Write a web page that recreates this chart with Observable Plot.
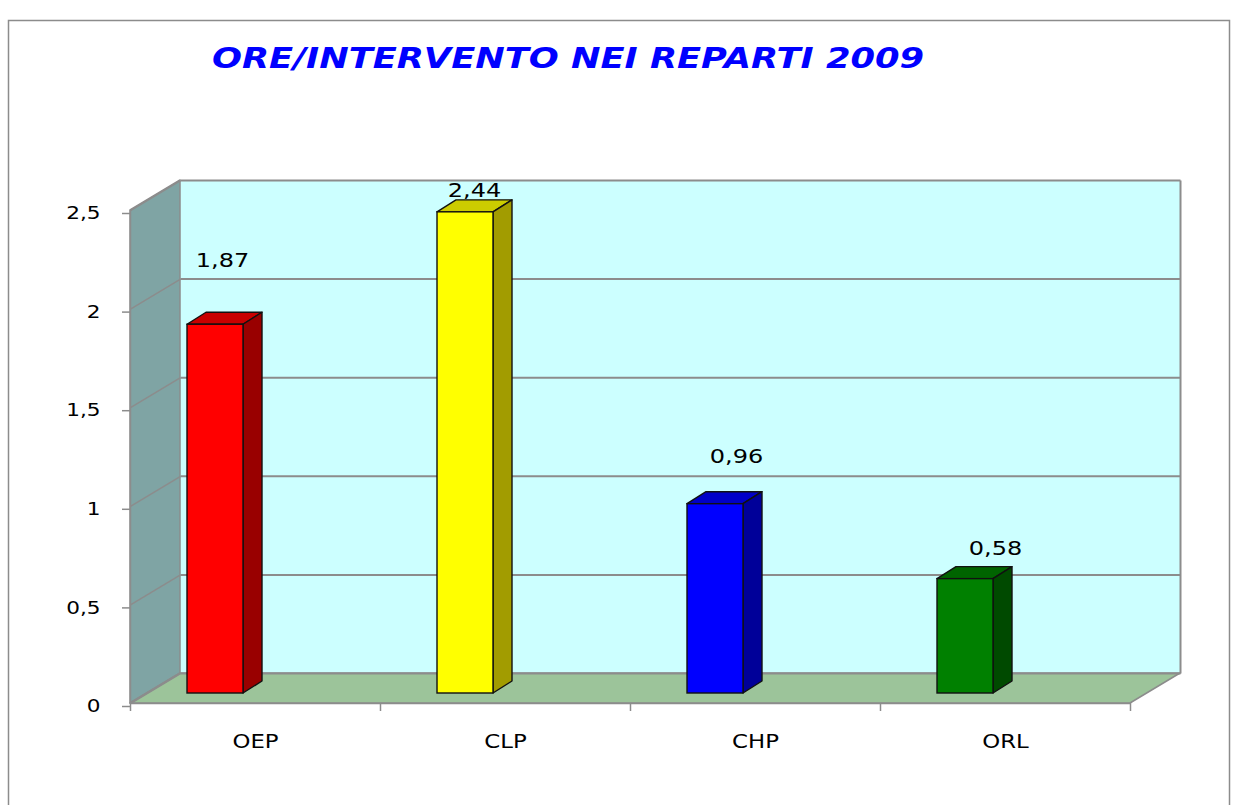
<!DOCTYPE html>
<html>
<head>
<meta charset="utf-8">
<script src="https://cdn.jsdelivr.net/npm/d3@7"></script>
<script src="https://cdn.jsdelivr.net/npm/@observablehq/plot@0.6"></script>
<style>
  html, body { margin: 0; padding: 0; background: #fff; overflow: hidden; }
  #chart { position: relative; width: 1238px; height: 805px; }
</style>
</head>
<body>
<div id="chart"></div>
<script>
// ---- data ----
const title = "ORE/INTERVENTO NEI REPARTI 2009";
const categories = ["OEP", "CLP", "CHP", "ORL"];
const values = [1.87, 2.44, 0.96, 0.58];
const valueLabels = ["1,87", "2,44", "0,96", "0,58"];
const yTicks = [0, 0.5, 1, 1.5, 2, 2.5];
const yTickLabels = ["0", "0,5", "1", "1,5", "2", "2,5"];
const frontColors = ["#FF0000", "#FFFF00", "#0000FF", "#008000"];
const topColors = ["#C80000", "#CCCC00", "#0000C8", "#006400"];
const sideColors = ["#990000", "#A29C00", "#000099", "#004A00"];

// ---- layout (pixels) ----
const W = 1238, H = 805;
const mL = 130, mR = 108, mT = 210, mB = 102;
const yMax = 2.5;
const kx = (W - mL - mR) / categories.length; // px per x unit
const ky = (H - mT - mB) / yMax;               // px per y unit
const wallDX = 50 / kx, wallDY = 30 / ky;       // depth of the 3D box
const barInsetX = 57 / kx, barW = 56 / kx, barLift = 10 / ky;
const barDX = 19 / kx, barDY = 12 / ky;
const labelNudgeX = [-33, -31, -19, -10];       // px from category centre
const labelNudgeY = [74, 32, 58, 41];           // px above value level

const gridColor = "#8c8c8c";

const bars = categories.map((c, i) => ({
  i, c, v: values[i],
  x1: i + barInsetX, x2: i + barInsetX + barW,
  y1: barLift, y2: values[i] + barLift,
  front: frontColors[i], top: topColors[i], side: sideColors[i]
}));
const sidePts = bars.flatMap(b => [
  {i: b.i, x: b.x2, y1: b.y1, y2: b.y2, fill: b.side},
  {i: b.i, x: b.x2 + barDX, y1: b.y1 + barDY, y2: b.y2 + barDY, fill: b.side}
]);
const topPts = bars.flatMap(b => [
  {i: b.i, y: b.y2, x1: b.x1, x2: b.x2, fill: b.top},
  {i: b.i, y: b.y2 + barDY, x1: b.x1 + barDX, x2: b.x2 + barDX, fill: b.top}
]);
const labels = bars.map(b => ({
  text: valueLabels[b.i],
  x: b.i + 0.5 + labelNudgeX[b.i] / kx,
  y: b.v + labelNudgeY[b.i] / ky
}));

const n = categories.length;
const leftWall = [
  {x: 0, y1: 0, y2: yMax},
  {x: wallDX, y1: wallDY, y2: yMax + wallDY}
];
const floor = [
  {y: 0, x1: 0, x2: n},
  {y: wallDY, x1: wallDX, x2: n + wallDX}
];

const plot = Plot.plot({
  width: W, height: H,
  marginLeft: mL, marginRight: mR, marginTop: mT, marginBottom: mB,
  x: {type: "linear", domain: [0, n], axis: null},
  y: {type: "linear", domain: [0, yMax], axis: null},
  color: {type: "identity"},
  style: {fontFamily: "DejaVu Sans", fontSize: "18px", background: "transparent", overflow: "visible", color: "#000"},
  marks: [
    // back wall
    Plot.rect([0], {x1: wallDX, x2: n + wallDX, y1: wallDY, y2: yMax + wallDY, fill: "#CCFFFF"}),
    // left wall
    Plot.areaY(leftWall, {x: "x", y1: "y1", y2: "y2", fill: "#7FA4A4", stroke: gridColor, strokeWidth: 1.5}),
    // floor
    Plot.areaX(floor, {y: "y", x1: "x1", x2: "x2", fill: "#9CC49A", stroke: gridColor, strokeWidth: 1.5}),
    // gridlines on back wall
    Plot.link(yTicks, {x1: wallDX, x2: n + wallDX, y1: d => d + wallDY, y2: d => d + wallDY, stroke: gridColor, strokeWidth: 2}),
    // gridlines on left wall
    Plot.link(yTicks, {x1: 0, x2: wallDX, y1: d => d, y2: d => d + wallDY, stroke: gridColor, strokeWidth: 1.5}),
    // right edge of back wall
    Plot.link([0], {x1: n + wallDX, x2: n + wallDX, y1: wallDY, y2: yMax + wallDY, stroke: gridColor, strokeWidth: 2}),
    // bars
    Plot.areaX(topPts, {y: "y", x1: "x1", x2: "x2", z: "i", fill: "fill", stroke: "#111", strokeWidth: 1.4, strokeLinejoin: "round"}),
    Plot.areaY(sidePts, {x: "x", y1: "y1", y2: "y2", z: "i", fill: "fill", stroke: "#111", strokeWidth: 1.4, strokeLinejoin: "round"}),
    Plot.rect(bars, {x1: "x1", x2: "x2", y1: "y1", y2: "y2", fill: "front", stroke: "#111", strokeWidth: 1.4}),
    // value labels
    Plot.text(labels, {x: "x", y: "y", text: "text", fontSize: 20, fill: "#000"}),
    // axes
    Plot.ruleX([0], {y1: 0, y2: yMax, stroke: gridColor, strokeWidth: 1.5}),
    Plot.ruleY([0], {x1: 0, x2: n, stroke: gridColor, strokeWidth: 1.5}),
    Plot.axisY({ticks: yTicks, tickSize: 8, tickPadding: 22, tickFormat: d => yTickLabels[yTicks.indexOf(d)],
      stroke: gridColor, fill: "#000", fontSize: 18, dy: 3, strokeWidth: 1.5}),
    Plot.axisX({ticks: d3.range(n + 1), tickSize: 8, tickFormat: () => "", stroke: gridColor, strokeWidth: 1.5}),
    Plot.text(categories, {x: (d, i) => i + 0.5, y: () => 0, dy: 38, fontSize: 19, fill: "#000"})
  ]
});

// stretch all text horizontally, like the reference (non-uniformly scaled chart)
plot.querySelectorAll("text").forEach(t => {
  const tr = t.getAttribute("transform");
  if (tr) t.setAttribute("transform", tr + " scale(1.2,1)");
});

const svg = d3.select(plot);
// outer frame
svg.insert("rect", ":first-child")
  .attr("x", 8.5).attr("y", 20.5).attr("width", 1221).attr("height", 900)
  .attr("fill", "#fff").attr("stroke", "#8c8c8c").attr("stroke-width", 1.5);
// title
svg.append("text")
  .attr("x", 212).attr("y", 68)
  .attr("text-anchor", "start")
  .attr("font-family", "DejaVu Sans").attr("font-weight", "bold").attr("font-style", "italic")
  .attr("font-size", 28).attr("fill", "#0000FF")
  .attr("textLength", 712).attr("lengthAdjust", "spacingAndGlyphs")
  .text(title);

document.getElementById("chart").appendChild(plot);
</script>
</body>
</html>
